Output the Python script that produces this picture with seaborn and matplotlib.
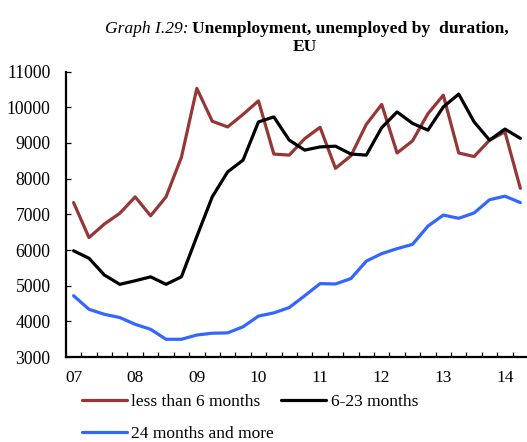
import pandas as pd
import seaborn as sns
import matplotlib.pyplot as plt
from matplotlib.ticker import FixedLocator

# quarterly data 2007Q1 - 2014Q2, thousands of persons
quarters = list(range(30))
year_labels = ["07", "08", "09", "10", "11", "12", "13", "14"]

less_6 = [7330, 6350, 6730, 7030, 7490, 6960, 7490, 8600, 10530, 9610,
          9450, 9800, 10180, 8690, 8660, 9120, 9440, 8290, 8640, 9520,
          10080, 8720, 9060, 9820, 10340, 8720, 8620, 9080, 9310, 7730]
m_6_23 = [5980, 5770, 5300, 5040, 5140, 5250, 5040, 5250, 6380, 7490,
          8190, 8520, 9590, 9730, 9080, 8800, 8890, 8910, 8690, 8660,
          9430, 9870, 9550, 9360, 10010, 10370, 9590, 9080, 9390, 9130]
m_24 = [4720, 4340, 4200, 4110, 3920, 3780, 3500, 3500, 3620, 3670,
        3680, 3850, 4150, 4240, 4390, 4720, 5060, 5050, 5200, 5690,
        5900, 6040, 6160, 6670, 6980, 6890, 7040, 7410, 7510, 7330]

names = ["less than 6 months", "6-23 months", "24 months and more"]
colors = ["#953735", "#000000", "#3366FF"]

df = pd.DataFrame({"q": quarters, names[0]: less_6, names[1]: m_6_23, names[2]: m_24})
df = df.melt(id_vars="q", var_name="series", value_name="value")

sns.set_style("ticks", {"text.color": "black", "xtick.color": "black",
                        "ytick.color": "black", "axes.edgecolor": "black",
                        "axes.labelcolor": "black"})
plt.rcParams["font.family"] = ["Liberation Serif", "DejaVu Serif"]

fig = plt.figure(figsize=(5.27, 4.42), dpi=100)
ax = fig.add_axes([0.125, 0.192, 0.877, 0.646])

sns.lineplot(data=df, x="q", y="value", hue="series", hue_order=names,
             palette=colors, linewidth=2.3, ax=ax, legend=False)

ax.set_xlim(-0.5, 29.5)
ax.set_ylim(3000, 11000)
ax.set_yticks(range(3000, 11001, 1000))
ax.set_xticks(list(range(0, 30, 4)))
ax.set_xticklabels(year_labels)
ax.xaxis.set_minor_locator(FixedLocator([i + 0.5 for i in range(-1, 30)]))
ax.tick_params(axis="x", which="major", length=0, pad=9, labelsize=12.5)
ax.tick_params(axis="x", which="minor", direction="in", length=3.5, width=0.9)
ax.tick_params(axis="y", direction="in", length=3.5, width=0.9, pad=11, labelsize=12.7)
ax.set_xlabel("")
ax.set_ylabel("")
sns.despine(ax=ax)
for s in ["left", "bottom"]:
    ax.spines[s].set_linewidth(1.6)

# title: italic prefix + bold text
fig.text(189 / 527, 1 - 33 / 442, "Graph I.29:", style="italic", fontsize=12.6,
         ha="right", va="baseline")
fig.text(192 / 527, 1 - 33 / 442, "Unemployment, unemployed by  duration,",
         fontweight="bold", fontsize=12.6, ha="left", va="baseline")
fig.text(305 / 527, 1 - 51 / 442, "EU", fontweight="bold", fontsize=12.6,
         ha="center", va="baseline")

handles = [plt.Line2D([], [], color=c, linewidth=2.3) for c in colors]
order = [0, 2, 1]
fig.legend([handles[i] for i in order], [names[i] for i in order], ncol=2,
           loc="center left", bbox_to_anchor=(82 / 527, 1 - 418 / 442),
           frameon=False, fontsize=12.5, handlelength=2.6, handletextpad=0.25,
           columnspacing=0.4, labelspacing=0.9, borderpad=0, borderaxespad=0)

fig.savefig("out.png", dpi=100)
